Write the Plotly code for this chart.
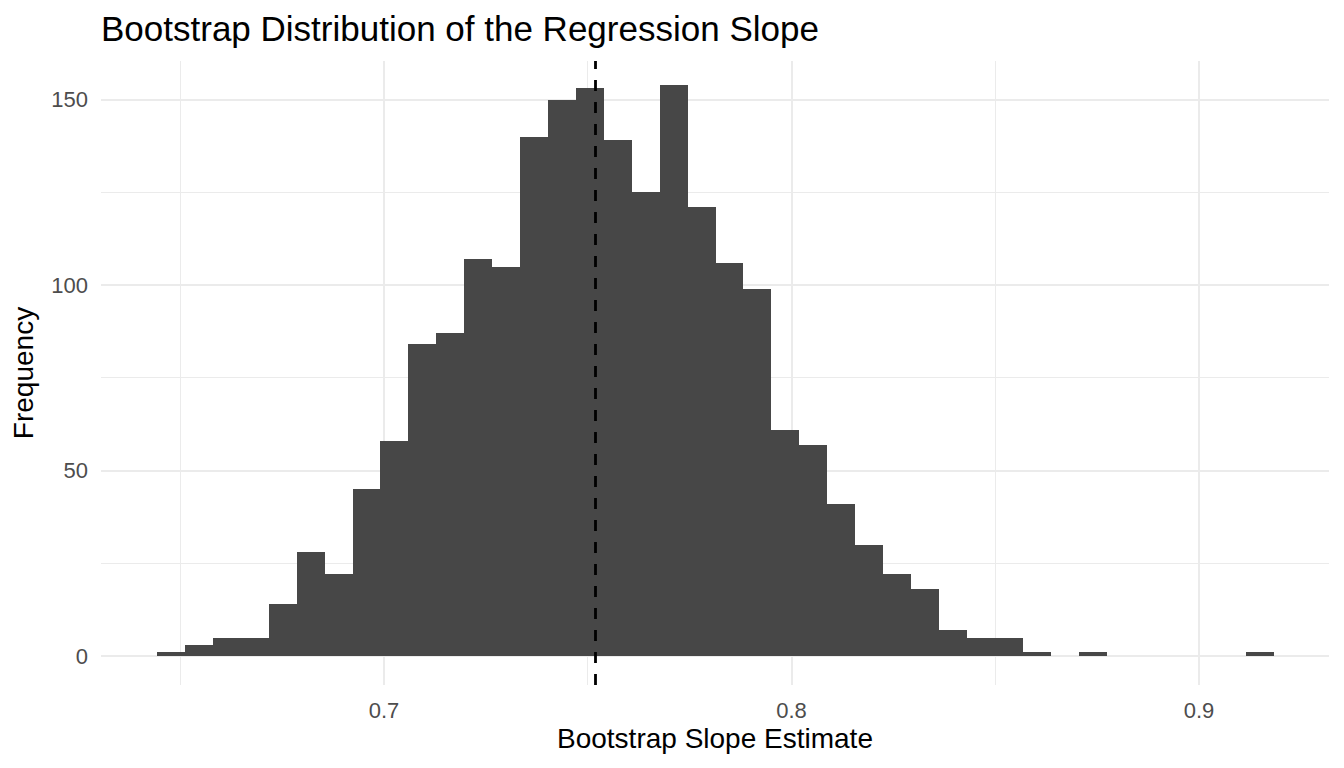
import numpy as np
import plotly.graph_objects as go

# histogram counts (40 bins)
counts = [1, 3, 5, 5, 14, 28, 22, 45, 58, 84,
          87, 107, 105, 140, 150, 153, 139, 125, 154, 121,
          106, 99, 61, 57, 41, 30, 22, 18, 7, 5,
          5, 1, 0, 1, 0, 0, 0, 0, 0, 1]
bin_start = 0.6443
bin_width = 0.006853
slope_estimate = 0.7519

x_ticks = [0.7, 0.8, 0.9]
x_tick_labels = ["0.7", "0.8", "0.9"]
y_ticks = [0, 50, 100, 150]
y_tick_labels = ["0", "50", "100", "150"]

centers = bin_start + bin_width * (np.arange(len(counts)) + 0.5)

grid = "#EBEBEB"
font = "Liberation Sans, Arial, Helvetica, sans-serif"

# page body has an 8px margin, so the figure is sized to fit inside it
W, H = 1328, 752

fig = go.Figure(
    go.Bar(
        x=centers,
        y=counts,
        width=bin_width,
        marker=dict(color="#474747", line=dict(width=0)),
        hovertemplate="%{x:.3f}: %{y}<extra></extra>",
    )
)

# dashed reference line at the slope estimate
fig.add_shape(
    type="line", xref="x", yref="paper",
    x0=slope_estimate, x1=slope_estimate, y0=0, y1=1,
    line=dict(color="black", width=2.8, dash="11px,11px"),
)

fig.update_layout(
    width=W,
    height=H,
    margin=dict(l=93, r=7, t=53, b=75),
    paper_bgcolor="white",
    plot_bgcolor="white",
    bargap=0,
    showlegend=False,
    font=dict(family=font, color="black"),
    title=dict(
        text="Bootstrap Distribution of the Regression Slope",
        x=93 / W, xref="container", xanchor="left",
        y=1 - 21 / H, yref="container", yanchor="middle",
        font=dict(size=35, color="black"),
    ),
    xaxis=dict(
        range=[0.63055, 0.93190],
        tickvals=x_ticks,
        ticktext=x_tick_labels,
        showgrid=True, gridcolor=grid, gridwidth=2.2,
        minor=dict(dtick=0.05, tick0=0.65, showgrid=True, gridcolor=grid, gridwidth=1.1),
        zeroline=False, showline=False, ticks="",
        ticklabelstandoff=10,
        automargin=False,
        tickfont=dict(size=22, color="#4D4D4D"),
        title=dict(text="Bootstrap Slope Estimate", font=dict(size=28, color="black"), standoff=6),
    ),
    yaxis=dict(
        range=[-7.8, 160.4],
        tickvals=y_ticks,
        ticktext=y_tick_labels,
        showgrid=True, gridcolor=grid, gridwidth=2.2,
        minor=dict(dtick=25, tick0=0, showgrid=True, gridcolor=grid, gridwidth=1.1),
        zeroline=False, showline=False, ticks="",
        ticklabelstandoff=12,
        automargin=False,
        tickfont=dict(size=22, color="#4D4D4D"),
        title=dict(text="Frequency", font=dict(size=28, color="black"), standoff=12),
    ),
)

fig.write_html("out.html")
